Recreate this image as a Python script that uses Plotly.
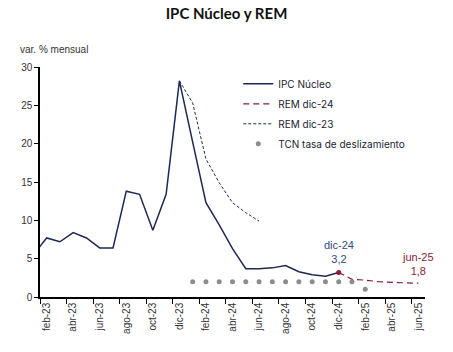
import plotly.graph_objects as go

# --- data ---------------------------------------------------------------
months = ["ene-23", "feb-23", "mar-23", "abr-23", "may-23", "jun-23", "jul-23", "ago-23",
          "sep-23", "oct-23", "nov-23", "dic-23", "ene-24", "feb-24", "mar-24", "abr-24",
          "may-24", "jun-24", "jul-24", "ago-24", "sep-24", "oct-24", "nov-24", "dic-24",
          "ene-25", "feb-25", "mar-25", "abr-25", "may-25", "jun-25"]
tick_labels = ["feb-23", "abr-23", "jun-23", "ago-23", "oct-23", "dic-23", "feb-24",
               "abr-24", "jun-24", "ago-24", "oct-24", "dic-24", "feb-25", "abr-25", "jun-25"]

ipc_months = months[:24]
ipc_nucleo = [5.5, 7.7, 7.2, 8.4, 7.7, 6.4, 6.4, 13.8, 13.4, 8.7, 13.4, 28.2,
              20.2, 12.3, 9.4, 6.3, 3.7, 3.7, 3.8, 4.1, 3.3, 2.9, 2.7, 3.2]

rem23_months = ["dic-23", "ene-24", "feb-24", "mar-24", "abr-24", "may-24", "jun-24"]
rem_dic23 = [28.2, 25.3, 18.0, 14.9, 12.3, 11.0, 9.9]

rem24_months = ["dic-24", "ene-25", "feb-25", "mar-25", "abr-25", "may-25", "jun-25"]
rem_dic24 = [3.2, 2.3, 2.2, 2.0, 1.9, 1.85, 1.8]

tcn_months = ["ene-24", "feb-24", "mar-24", "abr-24", "may-24", "jun-24", "jul-24",
              "ago-24", "sep-24", "oct-24", "nov-24", "dic-24", "ene-25", "feb-25"]
tcn = [2, 2, 2, 2, 2, 2, 2, 2, 2, 2, 2, 2, 2, 1]

# numeric positions (0 = feb-23)
def pos(m):
    return months.index(m) - 1

NAVY = "#1f2756"
RED = "#8b1a3a"
GRAY = "#8c8c8c"
BLUE = "#2f4a8a"
FONT = "Liberation Sans, Arial, sans-serif"

fig = go.Figure()

fig.add_trace(go.Scatter(
    x=[pos(m) for m in ipc_months], y=ipc_nucleo, mode="lines",
    name="IPC Núcleo", legendgroup="a",
    line=dict(color=NAVY, width=1.5)))

fig.add_trace(go.Scatter(
    x=[pos(m) for m in rem24_months], y=rem_dic24, mode="lines",
    name="REM dic-24", legendgroup="b",
    line=dict(color=RED, width=1.2, dash="6px,4px")))

fig.add_trace(go.Scatter(
    x=[pos(m) for m in rem23_months], y=rem_dic23, mode="lines",
    name="REM dic-23", legendgroup="c",
    line=dict(color=NAVY, width=1, dash="3px,2px")))

fig.add_trace(go.Scatter(
    x=[pos(m) for m in tcn_months], y=tcn, mode="markers",
    name="TCN tasa de deslizamiento", legendgroup="d",
    marker=dict(color=GRAY, size=5)))

# highlighted last observation
fig.add_trace(go.Scatter(
    x=[pos(ipc_months[-1])], y=[ipc_nucleo[-1]], mode="markers",
    showlegend=False, marker=dict(color=RED, size=5)))

def fmt(v):
    return f"{v:.1f}".replace(".", ",")

fig.add_annotation(x=pos(ipc_months[-1]), y=ipc_nucleo[-1],
                   text=f"{ipc_months[-1]}<br>{fmt(ipc_nucleo[-1])}",
                   showarrow=False, yanchor="bottom", yshift=5,
                   font=dict(family=FONT, size=11, color=BLUE))
fig.add_annotation(x=pos(rem24_months[-1]), y=rem_dic24[-1],
                   text=f"{rem24_months[-1]}<br>{fmt(rem_dic24[-1])}",
                   showarrow=False, yanchor="bottom", yshift=4,
                   font=dict(family=FONT, size=11, color=RED))

fig.add_annotation(xref="paper", yref="paper", x=-0.057, y=1.074,
                   xanchor="left", yanchor="middle", showarrow=False,
                   text="var. % mensual",
                   font=dict(family=FONT, size=10, color="#333333"))

fig.update_layout(
    width=453, height=352,
    margin=dict(l=40, r=28, t=67, b=55),
    paper_bgcolor="white", plot_bgcolor="white",
    title=dict(text="<b>IPC Núcleo y REM</b>", x=0.5, xanchor="center",
               y=0.96, yanchor="middle",
               font=dict(family="Lato, sans-serif", size=15, color="#111111")),
    showlegend=True,
    legend=dict(x=0.515, y=0.99, xanchor="left", yanchor="top",
                traceorder="grouped", tracegroupgap=1,
                bgcolor="rgba(0,0,0,0)", itemwidth=30,
                font=dict(family="Inter, sans-serif", size=10, color="#222233")),
    font=dict(family=FONT, size=10, color="#333333"),
)

fig.update_xaxes(
    range=[-0.5, 28.5], showgrid=False, zeroline=False,
    tickvals=[pos(m) for m in tick_labels], ticktext=tick_labels,
    tickangle=-90, ticks="", ticklen=0,
    showline=True, linecolor="black", linewidth=1.5,
    tickfont=dict(family=FONT, size=10, color="#333333"),
    minor=dict(tick0=-0.5, dtick=2, ticks="outside", ticklen=5,
               tickcolor="black", tickwidth=1),
)
fig.update_yaxes(
    range=[0, 30], dtick=5, showgrid=False, zeroline=False,
    showline=True, linecolor="black", linewidth=1.5,
    ticks="outside", ticklen=4, tickcolor="black",
    tickfont=dict(family=FONT, size=10, color="#333333"),
)

fig.write_html("out.html")
